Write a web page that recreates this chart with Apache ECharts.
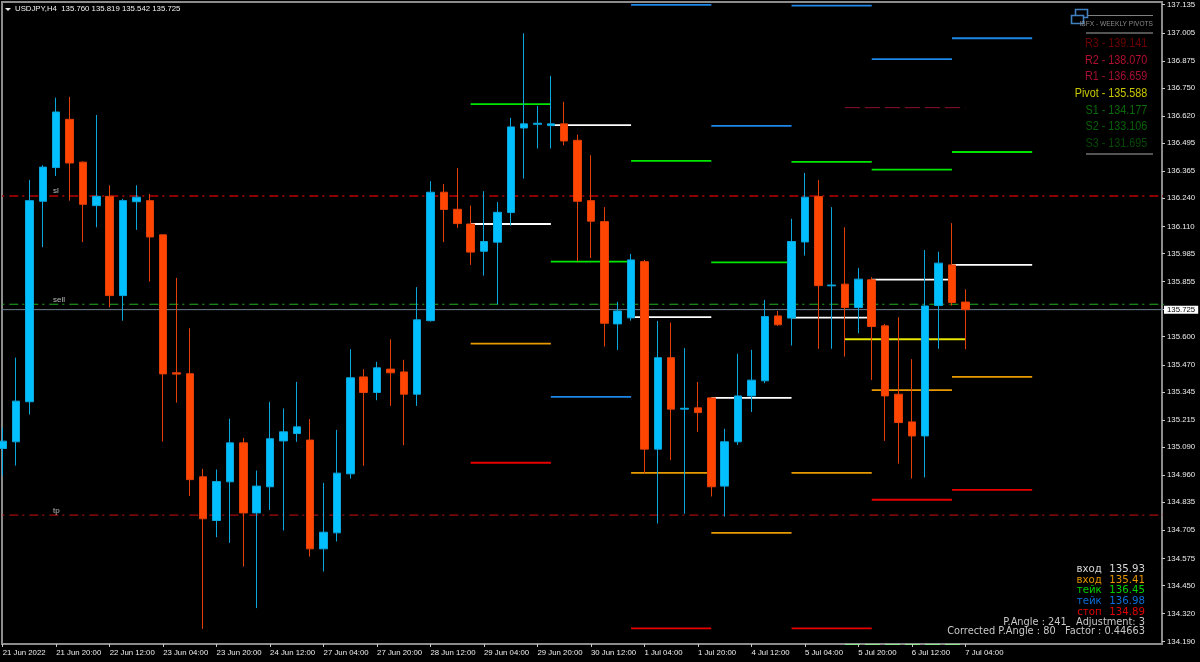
<!DOCTYPE html>
<html><head><meta charset="utf-8">
<style>html,body{margin:0;padding:0;background:#000}#c{width:1200px;height:662px}</style>
<script src="https://cdn.jsdelivr.net/npm/echarts@6/dist/echarts.min.js"></script>
</head><body><div id="c"></div>
<script>
const opens=[135.083,135.114,135.299,136.226,136.382,136.605,136.407,136.206,136.249,135.790,136.224,136.229,136.071,135.433,135.429,134.952,134.750,134.929,135.109,134.785,134.906,135.118,135.152,135.122,134.619,134.693,134.966,135.414,135.342,135.450,135.437,135.334,135.674,136.268,136.189,136.121,135.995,136.037,136.174,136.565,136.582,136.576,136.584,136.508,136.229,136.132,135.659,135.687,135.947,135.080,135.503,135.265,135.271,135.317,134.909,135.114,135.326,135.396,135.696,135.686,136.038,136.248,135.835,135.843,135.735,135.863,135.650,135.334,135.206,135.141,135.744,135.932,135.760];
const closes=[135.117,135.302,136.229,136.384,136.639,136.403,136.212,136.249,135.790,136.229,136.245,136.061,135.428,135.427,134.939,134.758,134.930,135.109,134.785,134.909,135.128,135.160,135.183,134.619,134.696,134.969,135.410,135.342,135.456,135.433,135.334,135.678,136.268,136.188,136.123,135.991,136.040,136.175,136.570,136.584,136.587,136.584,136.505,136.226,136.134,135.662,135.719,135.955,135.080,135.503,135.265,135.269,135.249,134.906,135.114,135.326,135.399,135.693,135.655,136.040,136.245,135.836,135.839,135.735,135.866,135.647,135.326,135.203,135.141,135.742,135.940,135.758,135.725];
const lows=[134.958,135.004,135.240,136.014,136.343,136.229,136.037,136.106,135.736,135.674,136.094,135.855,135.115,135.295,134.863,134.249,134.673,134.647,134.537,134.345,134.799,134.704,135.114,134.583,134.514,134.653,134.944,135.003,135.306,135.280,135.098,135.280,135.670,136.037,136.103,135.932,135.882,135.750,136.114,136.331,136.470,136.470,136.485,135.950,135.964,135.554,135.539,135.674,134.969,134.736,135.029,134.781,135.160,134.861,134.768,135.100,135.252,135.385,135.650,135.559,135.975,135.544,135.544,135.508,135.616,135.400,135.118,135.013,134.944,134.949,135.544,135.744,135.542];
const highs=[135.180,135.503,136.325,136.393,136.705,136.709,136.411,136.625,136.300,136.237,136.300,136.260,136.071,135.872,135.639,134.989,134.986,135.221,135.132,134.981,135.299,135.268,135.391,135.219,134.924,135.169,135.542,135.450,135.484,135.588,135.493,135.829,136.319,136.306,136.380,136.206,136.273,136.222,136.612,137.003,136.667,136.806,136.686,136.534,136.439,136.199,135.761,135.983,135.955,135.673,135.665,135.547,135.391,135.317,135.174,135.521,135.539,135.770,135.719,136.145,136.357,136.324,136.199,136.106,135.918,135.875,135.659,135.690,135.496,136.001,135.993,136.125,135.819];

const dayStarts=[35,41,47,53,59,65,71];
const dayEnd=77;
const greenLevels=[136.675,135.947,136.413,135.944,136.408,136.372,136.454];
const blueLevels=[null,135.322,137.134,136.575,137.131,136.883,136.980];
const whiteLevels=[136.121,136.578,135.690,135.317,135.688,135.864,135.932];
const orangeLevels=[135.568,null,134.970,134.693,134.970,135.353,135.414];
const redLevels=[135.017,null,134.251,null,134.251,134.846,134.892];
const weekPivot={start:63,end:72,r1:136.659,pivot:135.588,s1:134.177};
const slPrice=136.251, sellPrice=135.750, tpPrice=134.775, lastPrice=135.725;
const markers=[['sl',136.275],['sell',135.770],['tp',134.795]];
const markerIndex=3.72;

const xTickLabels=['21 Jun 2022','21 Jun 20:00','22 Jun 12:00','23 Jun 04:00','23 Jun 20:00','24 Jun 12:00','27 Jun 04:00','27 Jun 20:00','28 Jun 12:00','29 Jun 04:00','29 Jun 20:00','30 Jun 12:00','1 Jul 04:00','1 Jul 20:00','4 Jul 12:00','5 Jul 04:00','5 Jul 20:00','6 Jul 12:00','7 Jul 04:00'];
const yTicks=[137.135,137.005,136.875,136.750,136.620,136.495,136.365,136.240,136.110,135.985,135.855,135.725,135.600,135.470,135.345,135.215,135.090,134.960,134.835,134.705,134.575,134.450,134.320,134.190];
const pivotRows=[['R3 - 139.141','#6e0000'],['R2 - 138.070','#b0102f'],['R1 - 136.659','#a50f30'],['Pivot - 135.588','#c8c800'],['S1 - 134.177','#0a6a0a'],['S2 - 133.106','#086008'],['S3 - 131.695','#064806']];
const tradeRows=[['вход','135.93','#d8d8d8'],['вход','135.41','#e69500'],['тейк','136.45','#00d000'],['тейк','136.98','#0a6ed8'],['стоп','134.89','#e00000']];
const infoRows=['P.Angle : 241   Adjustment: 3','Corrected P.Angle : 80   Factor : 0.44663'];
const headerText='USDJPY,H4  135.760 135.819 135.542 135.725';
const sans='"Liberation Sans"';

const candleData=opens.map((o,i)=>[i,o,closes[i],lows[i],highs[i]]);
function segs(levels){const d=[];levels.forEach((v,i)=>{if(v===null)return;const e=i+1<dayStarts.length?dayStarts[i+1]:dayEnd;d.push([dayStarts[i],v],[e,v],[e,null]);});return d;}
function lvl(color,levels,w){return {type:'line',data:segs(levels),showSymbol:false,silent:true,z:2,lineStyle:{color:color,width:w||1.8},connectNulls:false,animation:false};}
function hline(p,color,w,dash){return {type:'line',data:[[-1,p],[88,p]],showSymbol:false,silent:true,z:1,lineStyle:{color:color,width:w,type:dash},animation:false};}
function wline(p,color,w,dash,clip){return {type:'line',data:[[weekPivot.start,p],[weekPivot.end,p]],showSymbol:false,silent:true,z:2,clip:clip,lineStyle:{color:color,width:w,type:dash},animation:false};}

const series=[
 hline(slPrice,'#8b0000',2,[9,4,2,5]),
 hline(sellPrice,'#1fae1f',1.2,[9,4,2,5]),
 hline(tpPrice,'#d01010',1,[9,4,2,5]),
 hline(lastPrice,'#708090',1,'solid'),
 lvl('#00e800',greenLevels),lvl('#1e88e8',blueLevels),lvl('#ffffff',whiteLevels),lvl('#e89a00',orangeLevels),lvl('#e80000',redLevels),
 wline(weekPivot.pivot,'#e6e600',1.8,'solid',true),
 wline(weekPivot.r1,'#8c1030',1,[15,5],true),
 wline(weekPivot.s1,'#90ee90',1,[15,5],false),
 {type:'candlestick',data:candleData,encode:{x:0,y:[1,2,3,4]},barWidth:8,z:5,clip:true,silent:true,animation:false,
  itemStyle:{color:'#00BFFF',color0:'#FF4500',borderColor:'#0aa6dc',borderColor0:'#e24008',borderWidth:1}},
 {type:'scatter',data:markers.map(m=>[markerIndex,m[1],m[0]]),symbolSize:1,z:6,silent:true,animation:false,itemStyle:{color:'rgba(0,0,0,0)'},
  label:{show:true,position:'right',distance:0,formatter:p=>p.value[2],color:'#e0e0e0',fontSize:8,fontFamily:'Liberation Sans'}}
];

const g=[];
g.push({type:'polygon',shape:{points:[[5,8],[11,8],[8,11]]},style:{fill:'#e8e8e8'},z:20});
g.push({type:'text',x:15,y:9,style:{text:headerText,fill:'#f0f0f0',font:'7.8px '+sans,textAlign:'left',textVerticalAlign:'middle'},z:20});
g.push({type:'rect',shape:{x:1075.5,y:9.5,width:12,height:8},style:{fill:'none',stroke:'#4080c0',lineWidth:1.6},z:20});
g.push({type:'rect',shape:{x:1071.5,y:15.5,width:12,height:8},style:{fill:'#000',stroke:'#4080c0',lineWidth:1.6},z:20});
g.push({type:'line',shape:{x1:1088,y1:15.5,x2:1153,y2:15.5},style:{stroke:'#808080',lineWidth:1},z:20});
g.push({type:'text',x:1153,y:24,scaleY:1.15,style:{text:'IBFX - WEEKLY PIVOTS',fill:'#8a8a8a',font:'6.6px '+sans,textAlign:'right',textVerticalAlign:'middle'},z:20});
g.push({type:'line',shape:{x1:1086,y1:33,x2:1153,y2:33},style:{stroke:'#707070',lineWidth:1.5},z:20});
g.push({type:'line',shape:{x1:1086,y1:154,x2:1153,y2:154},style:{stroke:'#707070',lineWidth:1.5},z:20});
pivotRows.forEach((r,i)=>g.push({type:'text',x:1147.3,y:43.7+i*16.67,scaleY:1.15,style:{text:r[0],fill:r[1],font:'10.8px '+sans,textAlign:'right',textVerticalAlign:'middle'},z:20}));
tradeRows.forEach((r,i)=>{
 g.push({type:'text',x:1101.7,y:569+i*10.9,style:{text:r[0],fill:r[2],font:'10.2px "DejaVu Sans"',textAlign:'right',textVerticalAlign:'middle'},z:20});
 g.push({type:'text',x:1145,y:569+i*10.9,style:{text:r[1],fill:r[2],font:'10.2px "DejaVu Sans"',textAlign:'right',textVerticalAlign:'middle'},z:20});
});
infoRows.forEach((t,i)=>g.push({type:'text',x:1145,y:622.7+i*8.4,style:{text:t,fill:'#c8c8c8',font:'9.8px "DejaVu Sans"',textAlign:'right',textVerticalAlign:'middle'},z:20}));

const chart=echarts.init(document.getElementById('c'),null,{renderer:'canvas'});
chart.setOption({
 backgroundColor:'#000',animation:false,tooltip:{show:false},legend:{show:false},
 grid:{left:2,top:2,width:1160,height:642,show:true,borderColor:'#8c8c8c',borderWidth:2,backgroundColor:'#000',containLabel:false,outerBoundsMode:'none'},
 xAxis:{type:'value',min:-0.052,max:86.71,splitLine:{show:false},
  axisLine:{show:false,onZero:false},
  axisTick:{show:true,length:3,lineStyle:{color:'#c8c8c8',width:1},customValues:xTickLabels.map((_,i)=>i*4)},
  axisLabel:{show:true,customValues:xTickLabels.map((_,i)=>i*4),formatter:v=>xTickLabels[Math.round(v/4)],align:'left',margin:5,color:'#ececec',fontSize:7.8,fontFamily:'Liberation Sans',showMinLabel:true,showMaxLabel:true,hideOverlap:false}},
 yAxis:{type:'value',position:'right',min:134.179,max:137.1475,scale:true,splitLine:{show:false},
  axisLine:{show:false,onZero:false},
  axisTick:{show:true,length:3,lineStyle:{color:'#c8c8c8',width:1},customValues:yTicks},
  axisLabel:{show:true,customValues:yTicks,margin:2,color:'#ececec',fontSize:7.8,fontFamily:'Liberation Sans',showMinLabel:true,showMaxLabel:true,hideOverlap:false,
   formatter:v=>(v===lastPrice?'{cur|':'{n|')+v.toFixed(3)+'}',
   rich:{n:{color:'#ececec',fontSize:7.8,fontFamily:'Liberation Sans',padding:[0,3,0,3]},
         cur:{backgroundColor:'#ffffff',color:'#000000',fontSize:7.8,fontFamily:'Liberation Sans',padding:[0,3,0,3]}}}},
 series:series,
 graphic:{elements:g}
});
</script></body></html>
